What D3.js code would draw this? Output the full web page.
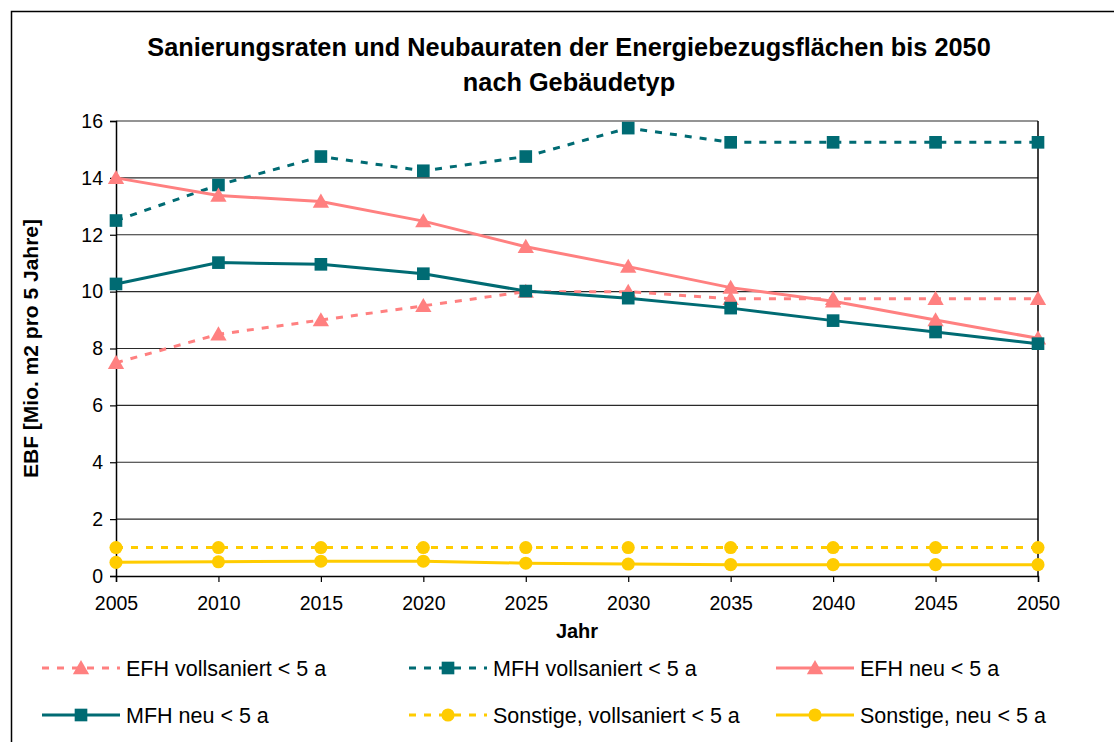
<!DOCTYPE html>
<html>
<head>
<meta charset="utf-8">
<script src="https://cdn.jsdelivr.net/npm/d3@7"></script>
<style>
  html, body { margin: 0; padding: 0; background: #fff; }
  svg { display: block; font-family: "Liberation Sans", Arial, sans-serif; }
</style>
</head>
<body>
<svg id="chart" width="1114" height="742"></svg>
<script>
// Years on the x axis
const years = [2005, 2010, 2015, 2020, 2025, 2030, 2035, 2040, 2045, 2050];

// Energiebezugsflächen per five-year period, Mio. m2
const efhVollsaniert = [7.5, 8.5, 9.0, 9.5, 10.0, 10.0, 9.75, 9.75, 9.75, 9.75];
const mfhVollsaniert = [12.5, 13.75, 14.75, 14.25, 14.75, 15.75, 15.25, 15.25, 15.25, 15.25];
const efhNeu = [14.0, 13.38, 13.17, 12.48, 11.58, 10.88, 10.14, 9.66, 9.0, 8.36];
const mfhNeu = [10.27, 11.02, 10.96, 10.63, 10.02, 9.77, 9.42, 8.98, 8.58, 8.17];
const sonstigeVollsaniert = [1.0, 1.0, 1.0, 1.0, 1.0, 1.0, 1.0, 1.0, 1.0, 1.0];
const sonstigeNeu = [0.48, 0.5, 0.52, 0.52, 0.45, 0.42, 0.4, 0.4, 0.4, 0.4];

const yTicks = [0, 2, 4, 6, 8, 10, 12, 14, 16];

const titleLines = ["Sanierungsraten und Neubauraten der Energiebezugsflächen bis 2050", "nach Gebäudetyp"];
const xTitle = "Jahr";
const yTitle = "EBF [Mio. m2 pro 5 Jahre]";

const PINK = "#FF8080", TEAL = "#006B73", YELLOW = "#FFCC00";

const series = [
  { name: "EFH vollsaniert < 5 a", values: efhVollsaniert, color: PINK, dashed: true, marker: "triangle" },
  { name: "MFH vollsaniert < 5 a", values: mfhVollsaniert, color: TEAL, dashed: true, marker: "square" },
  { name: "EFH neu < 5 a", values: efhNeu, color: PINK, dashed: false, marker: "triangle" },
  { name: "MFH neu < 5 a", values: mfhNeu, color: TEAL, dashed: false, marker: "square" },
  { name: "Sonstige, vollsaniert < 5 a", values: sonstigeVollsaniert, color: YELLOW, dashed: true, marker: "circle" },
  { name: "Sonstige, neu < 5 a", values: sonstigeNeu, color: YELLOW, dashed: false, marker: "circle" }
];

const svg = d3.select("#chart");

// Outer chart frame
svg.append("rect")
  .attr("x", 11.5).attr("y", 11.5).attr("width", 1300).attr("height", 900)
  .attr("fill", "none").attr("stroke", "#000").attr("stroke-width", 1.5);

const plot = { left: 116, right: 1038, top: 121, bottom: 576 };

const x = d3.scalePoint().domain(years).range([plot.left, plot.right]);
const y = d3.scaleLinear().domain([0, 16]).range([plot.bottom, plot.top]);

// Title
const title = svg.append("text")
  .attr("text-anchor", "middle")
  .attr("font-weight", "bold").attr("font-size", 25.3);
titleLines.forEach((t, i) => {
  title.append("tspan").attr("x", 569).attr("y", 56 + i * 35).text(t);
});

// Horizontal gridlines
svg.append("g").selectAll("line")
  .data(yTicks.filter(d => d > 0))
  .join("line")
  .attr("x1", plot.left).attr("x2", plot.right)
  .attr("y1", d => y(d)).attr("y2", d => y(d))
  .attr("stroke", "#2a2a2a").attr("stroke-width", 1.2);

// Plot area border on the right
svg.append("line")
  .attr("x1", plot.right).attr("x2", plot.right)
  .attr("y1", plot.top).attr("y2", plot.bottom)
  .attr("stroke", "#000").attr("stroke-width", 1.5);

// Y axis
const yAxis = svg.append("g")
  .attr("transform", `translate(${plot.left},0)`)
  .call(d3.axisLeft(y).tickValues(yTicks).tickSize(6).tickPadding(7).tickFormat(d3.format("d")));
yAxis.select(".domain").attr("stroke", "#000").attr("stroke-width", 1.5);
yAxis.selectAll(".tick line").attr("stroke", "#000").attr("stroke-width", 1.2);
yAxis.selectAll(".tick text").attr("font-size", 19.5).attr("fill", "#000")
  .attr("font-family", "Liberation Sans, Arial, sans-serif");

// X axis
const xAxis = svg.append("g")
  .attr("transform", `translate(0,${plot.bottom})`)
  .call(d3.axisBottom(x).tickSize(6).tickPadding(14).tickFormat(d3.format("d")));
xAxis.select(".domain").attr("stroke", "#000").attr("stroke-width", 1.5);
xAxis.selectAll(".tick line").attr("stroke", "#000").attr("stroke-width", 1.2);
xAxis.selectAll(".tick text").attr("font-size", 19.5).attr("fill", "#000")
  .attr("font-family", "Liberation Sans, Arial, sans-serif");

// Axis titles
svg.append("text")
  .attr("x", 577).attr("y", 638)
  .attr("text-anchor", "middle").attr("font-weight", "bold").attr("font-size", 20)
  .text(xTitle);
svg.append("text")
  .attr("transform", `translate(38,${(plot.top + plot.bottom) / 2}) rotate(-90)`)
  .attr("text-anchor", "middle").attr("font-weight", "bold").attr("font-size", 21)
  .text(yTitle);

// Marker shapes
const symbolFor = {
  triangle: d3.symbol().type(d3.symbolTriangle).size(115),
  square: d3.symbol().type(d3.symbolSquare).size(160),
  circle: d3.symbol().type(d3.symbolCircle).size(135)
};
function drawMarker(g, s, cx, cy) {
  const dy = s.marker === "triangle" ? 1.5 : 0;
  g.append("path")
    .attr("d", symbolFor[s.marker]())
    .attr("transform", `translate(${cx},${cy + dy})`)
    .attr("fill", s.color);
}

// Series lines and markers
const line = d3.line().x((d, i) => x(years[i])).y(d => y(d));
series.forEach(s => {
  const g = svg.append("g");
  g.append("path")
    .attr("d", line(s.values))
    .attr("fill", "none")
    .attr("stroke", s.color).attr("stroke-width", 3)
    .attr("stroke-dasharray", s.dashed ? "7,8" : null);
  s.values.forEach((v, i) => drawMarker(g, s, x(years[i]), y(v)));
});

// Legend: two rows of three entries
const legendCols = [42, 409, 776];
const legendRows = [668, 715];
series.forEach((s, i) => {
  const col = i % 3, row = Math.floor(i / 3);
  const lx = legendCols[col], ly = legendRows[row];
  const g = svg.append("g");
  g.append("line")
    .attr("x1", lx).attr("x2", lx + 78)
    .attr("y1", ly).attr("y2", ly)
    .attr("stroke", s.color).attr("stroke-width", 3)
    .attr("stroke-dasharray", s.dashed ? "7,8" : null);
  drawMarker(g, s, lx + 39, ly);
  g.append("text")
    .attr("x", lx + 84).attr("y", ly + 7.5)
    .attr("font-size", 21.5)
    .text(s.name);
});
</script>
</body>
</html>
